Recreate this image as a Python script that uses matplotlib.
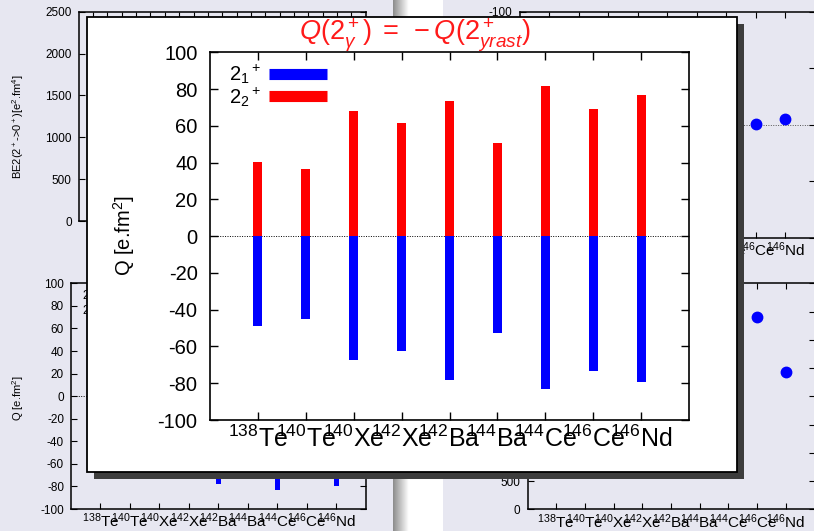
import numpy as np
import matplotlib
matplotlib.use('Agg')
import matplotlib.pyplot as plt
from matplotlib.patches import Rectangle
from matplotlib.lines import Line2D

# ---------------- data ----------------
mass = ['138', '140', '140', '142', '142', '144', '144', '146', '146']
element = ['Te', 'Te', 'Xe', 'Xe', 'Ba', 'Ba', 'Ce', 'Ce', 'Nd']
q_2gamma = [40.4, 36.3, 68.0, 61.3, 73.7, 50.4, 81.5, 69.4, 77.0]       # 2_2+ (red)
q_21 = [-49.1, -45.0, -67.2, -62.7, -78.1, -52.9, -83.4, -73.2, -79.2]  # 2_1+ (blue)
nan = np.nan
# background panels: only the last two points are visible (rest hidden behind popup)
dq_visible = [nan, nan, nan, nan, nan, nan, nan, -0.5, -4.8]
be2_visible = [nan, nan, nan, nan, nan, nan, nan, 3410, 2435]
legend_labels = [r'$2_1{}^+$', r'$2_2{}^+$']
title_text = r'$Q(2^+_\gamma)\;=\;-Q(2^+_{yrast})$'

# ---------------- style ----------------
plt.rcParams['font.family'] = ['Liberation Sans', 'DejaVu Sans']
plt.rcParams['mathtext.fontset'] = 'custom'
plt.rcParams['mathtext.rm'] = 'Liberation Sans'
plt.rcParams['mathtext.it'] = 'Liberation Sans:italic'
plt.rcParams['mathtext.bf'] = 'Liberation Sans:bold'
plt.rcParams['mathtext.sf'] = 'Liberation Sans'
plt.rcParams['axes.unicode_minus'] = False

W, H = 814, 531
fig = plt.figure(figsize=(W / 100, H / 100), dpi=100)
LAV = '#e7e7f1'
fig.patch.set_facecolor(LAV)


def fx(x):
    return x / W


def fy(y):
    return 1 - y / H


def rect(l, t, r, b):
    return [l / W, 1 - b / H, (r - l) / W, (b - t) / H]


xpos = np.arange(1, len(element) + 1)
xlabels = [r'$^{%s}$%s' % (m, e) for m, e in zip(mass, element)]

# ---------------- slide background pieces ----------------
fig.add_artist(Rectangle((fx(393), 0), (443 - 393) / W, 1, transform=fig.transFigure,
                         facecolor='white', edgecolor='none', zorder=-10))
axg = fig.add_axes(rect(393, 0, 408, H), zorder=-9)
axg.imshow(np.linspace(0.55, 1.0, 32)[None, :], cmap='gray', vmin=0, vmax=1,
           aspect='auto', interpolation='bilinear')
axg.axis('off')


def style_small(ax, fs=8.5):
    ax.set_facecolor('none')
    ax.tick_params(direction='in', length=4, width=0.8, top=True, right=True,
                   labelsize=fs, pad=5)
    for s in ax.spines.values():
        s.set_linewidth(1.1)


def q_chart(ax, width, fs_el, lw_leg, leg_fs, handlelen, anchor_y):
    ax.bar(xpos, q_2gamma, width=width, color='#ff0000', zorder=2)
    ax.bar(xpos, q_21, width=width, color='#0000ff', zorder=2)
    ax.axhline(0, color='black', lw=0.7, ls=(0, (1, 1.5)), zorder=1)
    ax.set_xlim(0, 10)
    ax.set_ylim(-100, 100)
    ax.set_yticks(np.arange(-100, 101, 20))
    ax.set_xticks(xpos, xlabels, fontsize=fs_el)
    handles = [Line2D([], [], color='#0000ff', lw=lw_leg, solid_capstyle='butt'),
               Line2D([], [], color='#ff0000', lw=lw_leg, solid_capstyle='butt')]
    ax.legend(handles, legend_labels, loc='upper left', bbox_to_anchor=(0.022, anchor_y),
              markerfirst=False, frameon=False, fontsize=leg_fs, handlelength=handlelen,
              handletextpad=0.4, labelspacing=-0.05, borderpad=0.1, borderaxespad=0.3)


# top-left: BE2 panel (mostly hidden)
ax_tl = fig.add_axes(rect(78.7, 11.7, 365.7, 221), zorder=0)
style_small(ax_tl)
ax_tl.set_xlim(0, 10)
ax_tl.set_ylim(0, 2500)
ax_tl.set_yticks(np.arange(0, 2501, 500))
ax_tl.set_xticks(np.arange(0.5, 10, 0.5))
ax_tl.tick_params(axis='x', labelbottom=False)
fig.text(fx(18), fy(127), r'BE2(2$^+$->0$^+$)[e$^2$.fm$^4$]', rotation=90,
         ha='center', va='center', fontsize=8)

# bottom-left: Q panel (same data as popup)
ax_bl = fig.add_axes(rect(71, 283.3, 365.7, 509), zorder=0)
style_small(ax_bl)
q_chart(ax_bl, 0.18, 11, 4, 8.5, 3.0, 1.0)
ax_bl.tick_params(axis='x', pad=2)
fig.text(fx(18), fy(398), r'Q [e.fm$^2$]', rotation=90, ha='center', va='center', fontsize=8)

# top-right panel
ax_tr = fig.add_axes(rect(519.5, 11.7, 815, 237.7), zorder=0)
style_small(ax_tr)
ax_tr.plot(xpos, dq_visible, 'o', color='#0000ff', ms=7.5, zorder=3)
ax_tr.axhline(0, color='#555555', lw=0.7, ls=(0, (1, 1.5)), zorder=1)
ax_tr.set_xlim(0, 10)
ax_tr.set_ylim(100, -100)
ax_tr.set_yticks(np.arange(-100, 101, 50))
ax_tr.set_xticks(xpos, xlabels, fontsize=11)
ax_tr.tick_params(axis='x', pad=2)

# bottom-right panel
ax_br = fig.add_axes(rect(527.5, 283.3, 814.5, 509.3), zorder=0)
style_small(ax_br)
ax_br.plot(xpos, be2_visible, 'o', color='#0000ff', ms=7.5, zorder=3)
ax_br.set_xlim(0, 10)
ax_br.set_ylim(0, 4000)
ax_br.set_yticks(np.arange(0, 4001, 500))
ax_br.set_xticks(xpos, xlabels, fontsize=11)
ax_br.tick_params(axis='x', pad=2)

# ---------------- popup ----------------
fig.add_artist(Rectangle((fx(93.5), fy(478.5)), 650 / W, 455 / H, transform=fig.transFigure,
                         facecolor='#3d3d3d', edgecolor='none', zorder=5))
fig.add_artist(Rectangle((fx(87), fy(472)), 650 / W, 455 / H, transform=fig.transFigure,
                         facecolor='white', edgecolor='black', lw=1.3, zorder=6))

ax = fig.add_axes(rect(210, 52.3, 689, 420), zorder=10)
ax.set_facecolor('white')
q_chart(ax, 0.19, 18, 8, 14.5, 2.9, 0.993)
ax.tick_params(direction='in', length=6, width=1, top=True, right=True)
ax.tick_params(axis='y', labelsize=14.5, pad=9)
ax.tick_params(axis='x', pad=4)
for s in ax.spines.values():
    s.set_linewidth(1.2)

fig.text(fx(124), fy(236), r'Q [e.fm$^2$]', rotation=90, ha='center', va='center',
         fontsize=14.5, zorder=20)
fig.text(fx(415), fy(40), title_text, color='#ff1a1a', fontsize=19.5, ha='center',
         va='baseline', zorder=20)

fig.savefig('out.png', dpi=100, facecolor=fig.get_facecolor())
